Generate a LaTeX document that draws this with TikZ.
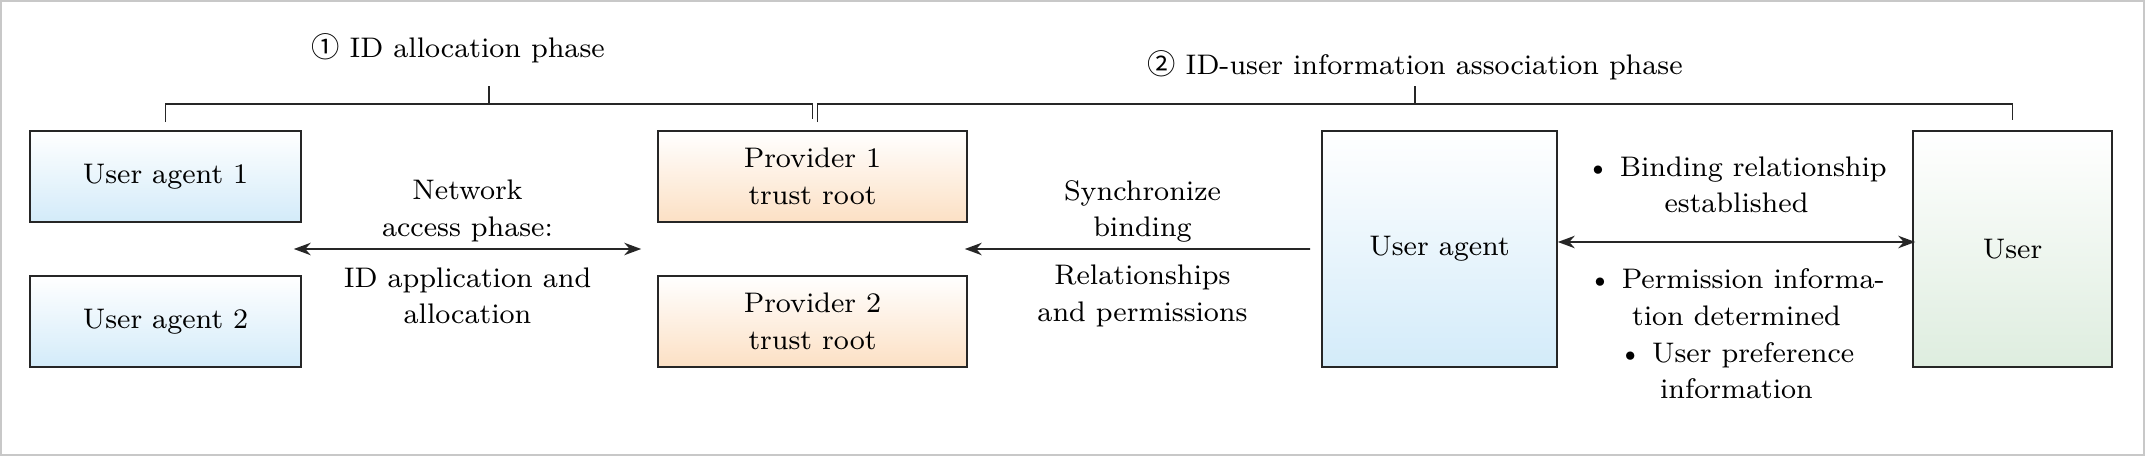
\documentclass[tikz,border=0pt]{standalone}
\usepackage{fontspec}
\newfontfamily\circfont{Noto Sans CJK SC}
\usepackage{tikz}
\usetikzlibrary{positioning, arrows.meta, calc}
\definecolor{agentblue}{HTML}{D3EBF9}
\definecolor{provpeach}{HTML}{FCE0C4}
\definecolor{usergreen}{HTML}{DEEDDF}
\definecolor{framegray}{HTML}{C8C8C8}
\definecolor{edgegray}{HTML}{262626}

\begin{document}
\begin{tikzpicture}
	[on grid, >={Stealth[length=1.7mm,width=1.25mm]},
	 every node/.style={font=\fontsize{8.05}{10.4}\selectfont, align=center},
	 box/.style={draw=edgegray, line width=0.45pt, inner sep=0pt,
	   minimum width=2.71cm, minimum height=0.91cm},
	 agent/.style={box, top color=white, bottom color=agentblue},
	 provider/.style={box, minimum width=3.09cm, top color=white, bottom color=provpeach},
	 tall/.style={minimum height=2.36cm},
	 person/.style={box, tall, minimum width=1.99cm, top color=white, bottom color=usergreen},
	 link/.style={edgegray, line width=0.5pt},
	 bracket/.style={edgegray, line width=0.45pt}]
   \useasboundingbox (0,0) rectangle (21.45,4.56);
   \draw[framegray, line width=0.6pt] (0.01,0.01) rectangle (21.44,4.55);
   % boxes
   \node[agent] (ua1) at (1.655,2.795) {User agent 1};
   \node[agent] (ua2) [below=1.45cm of ua1] {User agent 2};
   \node[provider] (p1) [right=6.47cm of ua1] {Provider 1\\trust root};
   \node[provider] (p2) [below=1.45cm of p1] {Provider 2\\trust root};
   \node[agent, tall, minimum width=2.35cm] (ua) at (14.395,2.07) {User agent};
   \node[person] (user) [right=5.73cm of ua] {User};
   % arrows
   \draw[link, <->] ($(ua1.south east)!0.5!(ua2.north east)+(-0.08,0)$)
     -- coordinate (amid) ($(p1.south west)!0.5!(p2.north west)+(-0.16,0)$);
   \draw[link, ->] ($(ua.west)+(-0.11,0)$)
     -- coordinate (smid) ($(p1.south east)!0.5!(p2.north east)+(-0.03,0)$);
   \draw[link, <->] ($(ua.east)+(0,0.07)$) -- coordinate (bmid) ($(user.west)+(0.03,0.07)$);
   \node (netup) at ($(amid)+(0,0.38)$) {Network\\access phase:};
   \node (netdown) at ($(amid)+(0,-0.47)$) {ID application and\\allocation};
   \node (syncup) at ($(smid)+(0.05,0.375)$) {Synchronize\\binding};
   \node (syncdown) at ($(smid)+(0.05,-0.47)$) {Relationships\\and permissions};
   \node (bindup) at ($(bmid)+(0,0.57)$) {\textbullet\ Binding relationship\\established};
   \node (binddown) at ($(bmid)+(0,-0.92)$) {\textbullet\ Permission informa-\\tion determined\\
     \textbullet\ User preference\\information};
   % phase brackets
   \coordinate (brk) at (0,3.52);
   \coordinate (p1n) at ($(p1.north)+(0.05,0)$);
   \draw[bracket] ($(ua1.north)+(0,0.08)$) |- (brk -| p1.north) -- ++(0,-0.15);
   \draw[bracket] ($(p1n)+(0,0.08)$) |- (brk -| user.north) -- ++(0,-0.16);
   \path (ua1.north |- brk) -- coordinate (t1) (p1.north |- brk);
   \path (p1n |- brk) -- coordinate (t2) (user.north |- brk);
   \draw[bracket] (t1) -- ++(0,0.18) coordinate (t1top);
   \draw[bracket] (t2) -- ++(0,0.18) coordinate (t2top);
   \node (title1) at ($(t1top)+(-0.31,0.38)$) {{\circfont ①} ID allocation phase};
   \node (title2) at ($(t2top)+(0,0.21)$) {{\circfont ②} ID-user information association phase};
\end{tikzpicture}
\end{document}
